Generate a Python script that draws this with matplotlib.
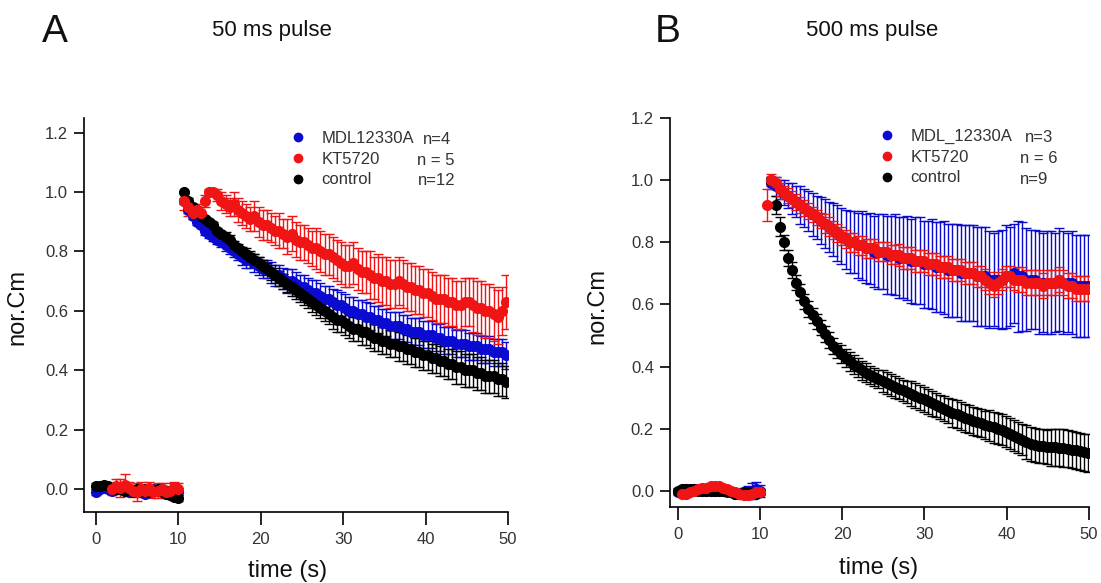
import numpy as np
import matplotlib
matplotlib.use("Agg")
import matplotlib.pyplot as plt
from matplotlib.lines import Line2D

plt.rcParams["font.family"] = ["Liberation Sans", "DejaVu Sans"]

BLUE = "#0a0ad0"
RED = "#f01414"
BLACK = "#000000"

# ---------------- panel A : 50 ms pulse ----------------
t_base_a = np.arange(0.0, 10.01, 0.5)
t_base_a_red = np.arange(2.0, 10.01, 0.5)
t_dec_a = np.arange(10.75, 49.8, 0.5)

a_black_base = [0.01, 0.01, 0.015, 0.01, 0.005, 0.0, 0.0, -0.005, 0.0, -0.01, 0.0,
                -0.005, 0.0, -0.01, -0.005, 0.0, -0.01, -0.015, -0.02, -0.025, -0.03]
a_blue_base = [-0.01, 0.0, 0.005, 0.0, -0.005, 0.0, 0.005, -0.005, -0.01, -0.01, -0.005,
               -0.01, -0.015, -0.01, 0.0, -0.005, 0.0, -0.005, -0.01, -0.005, -0.01]
a_red_base = [0.0, 0.01, 0.005, 0.015, 0.005, -0.005, -0.01, 0.0, -0.005, 0.005,
              -0.01, -0.005, 0.0, -0.01, -0.005, 0.005, 0.0]
a_red_base_err = [0.02, 0.025, 0.03, 0.035, 0.02, 0.02, 0.03, 0.025, 0.02, 0.02,
                  0.02, 0.025, 0.02, 0.02, 0.025, 0.02, 0.02]

a_black = [1.00, 0.97, 0.95, 0.94, 0.92, 0.91, 0.90, 0.89, 0.87, 0.86,
           0.85, 0.84, 0.82, 0.81, 0.80, 0.79, 0.78, 0.77, 0.76, 0.75,
           0.74, 0.73, 0.72, 0.71, 0.70, 0.69, 0.68, 0.67, 0.66, 0.65,
           0.64, 0.63, 0.62, 0.61, 0.60, 0.59, 0.58, 0.57, 0.57, 0.56,
           0.55, 0.54, 0.54, 0.53, 0.53, 0.52, 0.51, 0.51, 0.50, 0.50,
           0.49, 0.49, 0.48, 0.48, 0.47, 0.47, 0.46, 0.46, 0.45, 0.45,
           0.44, 0.44, 0.43, 0.43, 0.42, 0.42, 0.41, 0.41, 0.40, 0.40,
           0.40, 0.39, 0.39, 0.38, 0.38, 0.38, 0.37, 0.37, 0.36]
a_black_err = [0.0, 0.01, 0.01, 0.01, 0.01, 0.01, 0.01, 0.01, 0.01, 0.01,
               0.015, 0.015, 0.015, 0.015, 0.015, 0.02, 0.02, 0.02, 0.02, 0.02,
               0.02, 0.025, 0.025, 0.025, 0.025, 0.025, 0.03, 0.03, 0.03, 0.03,
               0.03, 0.035, 0.035, 0.035, 0.035, 0.035, 0.04, 0.04, 0.04, 0.04,
               0.04, 0.04, 0.04, 0.045, 0.045, 0.045, 0.045, 0.045, 0.045, 0.045,
               0.045, 0.045, 0.05, 0.05, 0.05, 0.05, 0.05, 0.05, 0.05, 0.05,
               0.05, 0.05, 0.05, 0.05, 0.05, 0.05, 0.055, 0.055, 0.055, 0.055,
               0.055, 0.055, 0.055, 0.055, 0.055, 0.055, 0.055, 0.055, 0.055]

a_blue = [0.97, 0.94, 0.92, 0.90, 0.89, 0.87, 0.86, 0.85, 0.84, 0.83,
          0.82, 0.81, 0.80, 0.79, 0.78, 0.77, 0.77, 0.76, 0.75, 0.74,
          0.74, 0.73, 0.72, 0.72, 0.71, 0.70, 0.70, 0.69, 0.68, 0.68,
          0.67, 0.66, 0.66, 0.65, 0.64, 0.64, 0.63, 0.62, 0.62, 0.61,
          0.60, 0.60, 0.59, 0.59, 0.58, 0.58, 0.57, 0.57, 0.56, 0.56,
          0.55, 0.55, 0.55, 0.54, 0.54, 0.53, 0.53, 0.53, 0.52, 0.52,
          0.52, 0.51, 0.51, 0.50, 0.50, 0.50, 0.49, 0.49, 0.49, 0.48,
          0.48, 0.48, 0.47, 0.47, 0.47, 0.46, 0.46, 0.46, 0.45]
a_blue_err = [0.01, 0.01, 0.01, 0.01, 0.01, 0.015, 0.015, 0.015, 0.015, 0.015,
              0.02, 0.02, 0.02, 0.02, 0.025, 0.025, 0.025, 0.03, 0.03, 0.03,
              0.03, 0.035, 0.035, 0.035, 0.035, 0.04, 0.04, 0.04, 0.04, 0.04,
              0.04, 0.045, 0.045, 0.045, 0.045, 0.045, 0.045, 0.05, 0.045, 0.045,
              0.045, 0.045, 0.045, 0.045, 0.05, 0.045, 0.045, 0.045, 0.045, 0.045,
              0.045, 0.045, 0.045, 0.045, 0.045, 0.045, 0.045, 0.045, 0.045, 0.045,
              0.045, 0.045, 0.045, 0.045, 0.045, 0.045, 0.045, 0.045, 0.045, 0.045,
              0.045, 0.045, 0.045, 0.045, 0.045, 0.045, 0.045, 0.045, 0.045]

a_red = [0.97, 0.95, 0.93, 0.94, 0.93, 0.97, 1.00, 1.00, 0.99, 0.97,
         0.96, 0.95, 0.96, 0.94, 0.93, 0.92, 0.91, 0.92, 0.90, 0.89,
         0.89, 0.88, 0.87, 0.87, 0.86, 0.85, 0.86, 0.84, 0.83, 0.83,
         0.82, 0.81, 0.81, 0.80, 0.79, 0.79, 0.78, 0.77, 0.76, 0.75,
         0.75, 0.76, 0.74, 0.73, 0.73, 0.72, 0.71, 0.71, 0.70, 0.70,
         0.69, 0.69, 0.70, 0.69, 0.68, 0.68, 0.67, 0.67, 0.66, 0.66,
         0.65, 0.64, 0.64, 0.64, 0.63, 0.63, 0.62, 0.62, 0.63, 0.63,
         0.62, 0.61, 0.61, 0.60, 0.60, 0.59, 0.58, 0.60, 0.63]
a_red_err = [0.03, 0.03, 0.02, 0.02, 0.02, 0.02, 0.01, 0.01, 0.02, 0.03,
             0.03, 0.03, 0.04, 0.04, 0.04, 0.04, 0.04, 0.05, 0.05, 0.05,
             0.05, 0.05, 0.05, 0.06, 0.05, 0.06, 0.06, 0.06, 0.06, 0.06,
             0.06, 0.06, 0.07, 0.07, 0.07, 0.07, 0.07, 0.07, 0.07, 0.07,
             0.07, 0.07, 0.07, 0.07, 0.07, 0.08, 0.07, 0.08, 0.08, 0.08,
             0.08, 0.08, 0.08, 0.08, 0.08, 0.08, 0.08, 0.08, 0.08, 0.08,
             0.08, 0.08, 0.08, 0.08, 0.08, 0.08, 0.08, 0.08, 0.08, 0.08,
             0.09, 0.09, 0.09, 0.09, 0.09, 0.09, 0.09, 0.08, 0.09]

# ---------------- panel B : 500 ms pulse ----------------
t_base_b = np.arange(0.0, 10.01, 0.5)
t_base_b_red = np.arange(0.5, 10.01, 0.5)
t_dec_b_red = np.arange(10.9, 49.95, 0.5)
t_dec_b = np.arange(11.4, 49.95, 0.5)

b_black_base = [0.0, 0.005, 0.005, 0.005, 0.005, 0.0, 0.0, 0.0, 0.0, 0.0, 0.0,
                0.0, 0.0, -0.005, -0.01, -0.01, -0.005, -0.005, -0.01, -0.01, -0.005]
b_blue_base = [-0.005, 0.0, 0.005, 0.0, 0.005, 0.005, 0.0, 0.0, 0.0, 0.0, 0.005,
               0.0, -0.005, -0.005, -0.01, -0.01, -0.005, -0.005, 0.0, 0.005, 0.0]
b_blue_base_err = [0.01, 0.01, 0.01, 0.01, 0.01, 0.01, 0.01, 0.01, 0.01, 0.01, 0.01,
                   0.01, 0.01, 0.01, 0.01, 0.01, 0.015, 0.02, 0.025, 0.025, 0.02]
b_red_base = [-0.01, -0.01, -0.005, 0.0, 0.005, 0.01, 0.01, 0.015, 0.015, 0.015,
              0.01, 0.005, 0.0, -0.005, -0.01, -0.015, -0.015, -0.01, -0.005, -0.005]

b_black = [1.00, 0.92, 0.85, 0.80, 0.75, 0.71, 0.67, 0.64, 0.61, 0.585,
           0.565, 0.545, 0.525, 0.505, 0.485, 0.466, 0.452, 0.44, 0.428, 0.417,
           0.406, 0.397, 0.388, 0.38, 0.373, 0.366, 0.36, 0.353, 0.347, 0.341,
           0.335, 0.329, 0.323, 0.318, 0.312, 0.306, 0.30, 0.294, 0.288, 0.282,
           0.276, 0.27, 0.264, 0.258, 0.252, 0.246, 0.24, 0.235, 0.23, 0.226,
           0.222, 0.218, 0.213, 0.209, 0.204, 0.20, 0.196, 0.19, 0.184, 0.178,
           0.171, 0.165, 0.158, 0.152, 0.148, 0.145, 0.143, 0.141, 0.14, 0.14,
           0.139, 0.138, 0.136, 0.133, 0.13, 0.127, 0.124, 0.122]
b_black_err = [0.01, 0.03, 0.03, 0.025, 0.025, 0.025, 0.025, 0.025, 0.025, 0.025,
               0.025, 0.025, 0.025, 0.025, 0.025, 0.025, 0.025, 0.03, 0.03, 0.03,
               0.03, 0.03, 0.03, 0.03, 0.03, 0.03, 0.03, 0.035, 0.035, 0.035,
               0.035, 0.035, 0.035, 0.035, 0.04, 0.04, 0.04, 0.04, 0.04, 0.04,
               0.04, 0.04, 0.04, 0.04, 0.045, 0.045, 0.045, 0.045, 0.045, 0.045,
               0.045, 0.045, 0.045, 0.05, 0.05, 0.05, 0.05, 0.05, 0.05, 0.05,
               0.05, 0.05, 0.055, 0.055, 0.055, 0.055, 0.055, 0.055, 0.06, 0.06,
               0.06, 0.06, 0.06, 0.06, 0.06, 0.06, 0.06, 0.06]

b_blue = [0.99, 0.98, 0.97, 0.96, 0.95, 0.94, 0.93, 0.92, 0.91, 0.90,
          0.89, 0.88, 0.87, 0.86, 0.85, 0.84, 0.83, 0.82, 0.81, 0.80,
          0.80, 0.79, 0.79, 0.78, 0.78, 0.77, 0.77, 0.77, 0.76, 0.76,
          0.76, 0.75, 0.75, 0.75, 0.74, 0.74, 0.74, 0.73, 0.73, 0.73,
          0.72, 0.72, 0.72, 0.71, 0.71, 0.71, 0.70, 0.70, 0.70, 0.70,
          0.69, 0.69, 0.69, 0.68, 0.68, 0.68, 0.68, 0.69, 0.69, 0.70,
          0.69, 0.69, 0.68, 0.68, 0.68, 0.67, 0.67, 0.67, 0.67, 0.67,
          0.68, 0.67, 0.67, 0.67, 0.66, 0.66, 0.66, 0.66]
b_blue_err = [0.02, 0.03, 0.03, 0.04, 0.04, 0.05, 0.05, 0.06, 0.06, 0.065,
              0.07, 0.07, 0.075, 0.08, 0.08, 0.085, 0.09, 0.09, 0.095, 0.10,
              0.10, 0.105, 0.11, 0.11, 0.115, 0.115, 0.12, 0.12, 0.125, 0.125,
              0.13, 0.13, 0.13, 0.135, 0.135, 0.14, 0.14, 0.14, 0.14, 0.145,
              0.145, 0.145, 0.15, 0.15, 0.15, 0.15, 0.155, 0.155, 0.155, 0.155,
              0.16, 0.16, 0.16, 0.155, 0.15, 0.155, 0.16, 0.165, 0.16, 0.16,
              0.18, 0.175, 0.165, 0.16, 0.16, 0.165, 0.16, 0.165, 0.165, 0.16,
              0.165, 0.165, 0.16, 0.165, 0.165, 0.165, 0.165, 0.165]

b_red = [0.92, 1.00, 0.99, 0.97, 0.96, 0.95, 0.94, 0.93, 0.92, 0.91,
         0.90, 0.89, 0.88, 0.87, 0.86, 0.85, 0.84, 0.83, 0.82, 0.81,
         0.80, 0.80, 0.79, 0.79, 0.78, 0.78, 0.78, 0.77, 0.77, 0.77,
         0.76, 0.76, 0.76, 0.75, 0.75, 0.75, 0.74, 0.74, 0.74, 0.73,
         0.73, 0.73, 0.72, 0.72, 0.72, 0.71, 0.71, 0.71, 0.70, 0.70,
         0.70, 0.69, 0.69, 0.68, 0.67, 0.66, 0.67, 0.68, 0.69, 0.69,
         0.68, 0.68, 0.68, 0.67, 0.67, 0.67, 0.67, 0.66, 0.67, 0.67,
         0.67, 0.68, 0.67, 0.66, 0.66, 0.65, 0.65, 0.65, 0.65]
b_red_err = [0.05, 0.02, 0.02, 0.02, 0.02, 0.025, 0.025, 0.025, 0.025, 0.025,
             0.025, 0.025, 0.025, 0.025, 0.03, 0.03, 0.03, 0.03, 0.03, 0.03,
             0.03, 0.03, 0.03, 0.03, 0.03, 0.03, 0.03, 0.03, 0.03, 0.03,
             0.03, 0.03, 0.035, 0.035, 0.035, 0.035, 0.035, 0.035, 0.035, 0.035,
             0.035, 0.035, 0.035, 0.035, 0.035, 0.035, 0.035, 0.035, 0.035, 0.035,
             0.035, 0.035, 0.035, 0.035, 0.035, 0.035, 0.035, 0.035, 0.035, 0.035,
             0.035, 0.04, 0.04, 0.04, 0.04, 0.04, 0.04, 0.04, 0.04, 0.04,
             0.04, 0.04, 0.04, 0.04, 0.04, 0.04, 0.04, 0.04, 0.04]

a_names = ["MDL12330A", "KT5720", "control"]
a_counts = ["n=4", "n = 5", "n=12"]
b_names = ["MDL_12330A", "KT5720", "control"]
b_counts = ["n=3", "n = 6", "n=9"]


def draw(ax, t, y, err, color):
    ax.errorbar(t, y, yerr=err, fmt="o", color=color, ms=7, mec=color,
                ecolor=color, elinewidth=1.0, capsize=3.5, capthick=1.0)


def style(ax, xlim, ylim):
    ax.set_xlim(*xlim)
    ax.set_ylim(*ylim)
    ax.set_xticks([0, 10, 20, 30, 40, 50])
    ax.set_yticks([0.0, 0.2, 0.4, 0.6, 0.8, 1.0, 1.2])
    ax.set_yticklabels(["0.0", "0.2", "0.4", "0.6", "0.8", "1.0", "1.2"])
    for s in ["top", "right"]:
        ax.spines[s].set_visible(False)
    for s in ["left", "bottom"]:
        ax.spines[s].set_linewidth(1.2)
    ax.tick_params(axis="y", direction="out", length=7.5, width=1.2, pad=4,
                   labelsize=12, labelcolor="#333333")
    ax.tick_params(axis="x", direction="out", length=9.5, width=1.2, pad=5,
                   labelsize=12, labelcolor="#333333")
    ax.set_xlabel("time (s)", fontsize=17, color="#111111")
    ax.set_ylabel("nor.Cm", fontsize=17, color="#111111")


def legend(ax, names, counts, x0, y0, nx, ny):
    handles = [Line2D([], [], ls="none", marker="o", ms=6, color=c) for c in (BLUE, RED, BLACK)]
    ax.legend(handles, names, loc="upper left", bbox_to_anchor=(x0, y0), frameon=False,
              fontsize=12, handlelength=1.0, handletextpad=0.9, labelspacing=0.34,
              borderpad=0, borderaxespad=0, labelcolor="#333333")
    for c, xx, yy in zip(counts, nx, ny):
        ax.text(xx, yy, c, transform=ax.transAxes, fontsize=12, va="center",
                color="#333333")


fig = plt.figure(figsize=(11.01, 5.83), dpi=100)
ax_a = fig.add_axes([0.0763, 0.1218, 0.3851, 0.6758])
ax_b = fig.add_axes([0.6085, 0.1304, 0.3806, 0.6672])

# panel A
draw(ax_a, t_base_a, a_blue_base, 0.01, BLUE)
draw(ax_a, t_base_a, a_black_base, 0.01, BLACK)
draw(ax_a, t_base_a_red, a_red_base, a_red_base_err, RED)
draw(ax_a, t_dec_a, a_blue, a_blue_err, BLUE)
draw(ax_a, t_dec_a, a_black, a_black_err, BLACK)
draw(ax_a, t_dec_a, a_red, a_red_err, RED)
style(ax_a, (-1.42, 50), (-0.077, 1.249))
ax_a.xaxis.set_label_coords(0.48, -0.122)
ax_a.yaxis.set_label_coords(-0.132, 0.52)
legend(ax_a, a_names, a_counts, 0.485, 0.967,
       [0.80, 0.785, 0.787], [0.946, 0.893, 0.842])

# panel B
draw(ax_b, t_base_b, b_blue_base, b_blue_base_err, BLUE)
draw(ax_b, t_base_b, b_black_base, 0.01, BLACK)
draw(ax_b, t_base_b_red, b_red_base, 0.01, RED)
draw(ax_b, t_dec_b, b_blue, b_blue_err, BLUE)
draw(ax_b, t_dec_b, b_black, b_black_err, BLACK)
draw(ax_b, t_dec_b_red, b_red, b_red_err, RED)
style(ax_b, (-0.94, 50), (-0.052, 1.2))
ax_b.xaxis.set_label_coords(0.4976, -0.1285)
ax_b.yaxis.set_label_coords(-0.148, 0.517)
legend(ax_b, b_names, b_counts, 0.498, 0.972,
       [0.847, 0.835, 0.835], [0.951, 0.895, 0.843])

fig.text(42 / 1101, 1 - 42 / 583, "A", fontsize=28, va="baseline", color="#111111")
fig.text(212 / 1101, 1 - 36 / 583, "50 ms pulse", fontsize=16, va="baseline", color="#111111")
fig.text(655 / 1101, 1 - 42 / 583, "B", fontsize=28, va="baseline", color="#111111")
fig.text(806 / 1101, 1 - 36 / 583, "500 ms pulse", fontsize=16, va="baseline", color="#111111")

fig.savefig("out.png", dpi=100)
